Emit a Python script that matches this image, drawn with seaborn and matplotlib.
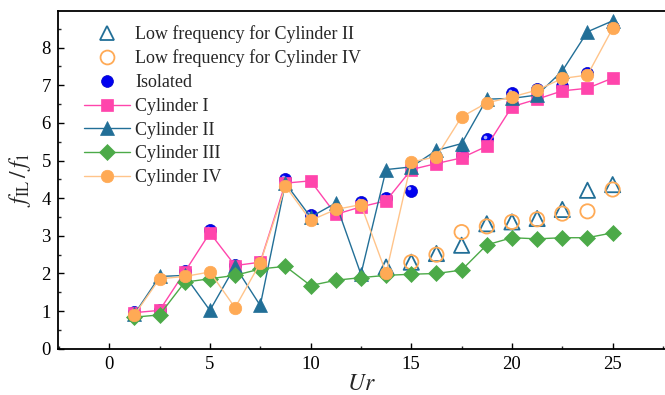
import numpy as np
import pandas as pd
import matplotlib
matplotlib.use("Agg")
import matplotlib.pyplot as plt
import matplotlib.transforms as mtransforms
import seaborn as sns

# ---------------- data ----------------
ur = [1.25, 2.5, 3.75, 5, 6.25, 7.5, 8.75, 10, 11.25, 12.5,
      13.75, 15, 16.25, 17.5, 18.75, 20, 21.25, 22.5, 23.75, 25]

isolated = [0.97, 1.02, 2.07, 3.15, 2.22, 2.30, 4.50, 3.55, 3.65, 3.90,
            4.00, 4.20, 5.00, 5.14, 5.56, 6.80, 6.90, 6.98, 7.33, 8.55]
cyl1 = [0.96, 1.02, 2.04, 3.08, 2.21, 2.30, 4.40, 4.46, 3.57, 3.77,
        3.93, 4.76, 4.92, 5.07, 5.38, 6.43, 6.63, 6.85, 6.92, 7.19]
cyl2 = [0.92, 1.92, 1.95, 1.02, 2.19, 1.15, 4.40, 3.50, 3.87, 1.98,
        4.76, 4.83, 5.27, 5.45, 6.63, 6.65, 6.74, 7.38, 8.42, 8.71]
cyl3 = [0.84, 0.90, 1.77, 1.86, 1.95, 2.12, 2.19, 1.68, 1.82, 1.89,
        1.95, 1.98, 2.00, 2.09, 2.76, 2.95, 2.92, 2.95, 2.95, 3.08]
cyl4 = [0.90, 1.86, 1.92, 2.04, 1.09, 2.28, 4.32, 3.41, 3.70, 3.83,
        2.01, 4.96, 5.10, 6.16, 6.53, 6.69, 6.87, 7.18, 7.27, 8.51]

ur_low2 = [13.75, 15, 16.25, 17.5, 18.75, 20, 21.25, 22.5, 23.75, 25]
low2 = [2.17, 2.30, 2.53, 2.75, 3.32, 3.37, 3.46, 3.70, 4.21, 4.36]
ur_low4 = [15, 16.25, 17.5, 18.75, 20, 21.25, 22.5, 23.75, 25]
low4 = [2.30, 2.50, 3.10, 3.25, 3.37, 3.44, 3.59, 3.65, 4.23]

labels = ["Low frequency for Cylinder II", "Low frequency for Cylinder IV",
          "Isolated", "Cylinder I", "Cylinder II", "Cylinder III", "Cylinder IV"]

# ---------------- style ----------------
sns.set_theme(style="ticks")
plt.rcParams["font.family"] = ["Liberation Serif", "DejaVu Serif"]
plt.rcParams["mathtext.fontset"] = "stix"
plt.rcParams["xtick.direction"] = "in"
plt.rcParams["ytick.direction"] = "in"

c_pink = "#FF45AC"
c_blue = "#226F97"
c_green = "#4CAA48"
c_orange = "#FFAA55"
c_ball = "#0000F0"

fig = plt.figure(figsize=(6.65, 3.95), dpi=100)
ax = fig.add_axes([0.087, 0.117, 0.913, 0.855])

df_low2 = pd.DataFrame({"Ur": ur_low2, "v": low2})
df_low4 = pd.DataFrame({"Ur": ur_low4, "v": low4})
df = pd.DataFrame({"Ur": ur, "iso": isolated, "c1": cyl1, "c2": cyl2,
                   "c3": cyl3, "c4": cyl4})

h = []
sns.scatterplot(data=df_low2, x="Ur", y="v", ax=ax, marker="^", s=120,
                facecolors="none", edgecolor=c_blue, linewidth=1.3, zorder=2)
h.append(plt.Line2D([], [], ls="none", marker="^", ms=10.5, mfc="none",
                    mec=c_blue, mew=1.3))
sns.scatterplot(data=df_low4, x="Ur", y="v", ax=ax, marker="o", s=105,
                facecolors="none", edgecolor=c_orange, linewidth=1.3, zorder=2)
h.append(plt.Line2D([], [], ls="none", marker="o", ms=10, mfc="none",
                    mec=c_orange, mew=1.3))

# isolated: shaded blue ball with a small highlight
sns.scatterplot(data=df, x="Ur", y="iso", ax=ax, marker="o",
                s=75, color=c_ball, edgecolor="#0000C8", linewidth=0.5, zorder=3)
offs = mtransforms.ScaledTranslation(-1.6 / 72, 1.6 / 72, fig.dpi_scale_trans)
ax.scatter(ur, isolated, s=7, color="#A8A8FF", linewidths=0,
           transform=ax.transData + offs, zorder=3.1)
h.append(plt.Line2D([], [], ls="none", marker="o", ms=8.5, mfc=c_ball,
                    mec="#0000C8", mew=0.5))

series = [("c1", c_pink, "s", 8.5, c_pink),
          ("c2", c_blue, "^", 9.5, c_blue),
          ("c3", c_green, "D", 8.3, c_green),
          ("c4", c_orange, "o", 9.0, "#FFC48A")]
for i, (col, color, mk, ms, lc) in enumerate(series):
    sns.lineplot(data=df, x="Ur", y=col, ax=ax, color=lc, lw=1.0,
                 marker=mk, markersize=ms, markerfacecolor=color,
                 markeredgecolor=color, markeredgewidth=0.5, zorder=4 + i)
    h.append(plt.Line2D([], [], color=lc, lw=1.0, marker=mk, ms=ms,
                        mfc=color, mec=color, mew=0.5))

ax.set_xlim(-2.55, 27.6)
ax.set_ylim(0, 8.97)
ax.set_xticks([0, 5, 10, 15, 20, 25])
ax.set_yticks(range(0, 9))
ax.xaxis.set_minor_locator(matplotlib.ticker.MultipleLocator(2.5))
ax.yaxis.set_minor_locator(matplotlib.ticker.MultipleLocator(0.5))
ax.tick_params(which="major", length=4.5, width=1.0, labelsize=13.5,
               colors="black", pad=5)
ax.tick_params(which="minor", length=2.5, width=1.0)
for s in ["left", "bottom", "top"]:
    ax.spines[s].set_linewidth(1.3)
    ax.spines[s].set_color("black")
ax.spines["right"].set_visible(False)

ax.set_xlabel(r"$Ur$", fontsize=17, labelpad=1)
ax.set_ylabel(r"$f_{\mathrm{IL}}\,/\,f_{1}$", fontsize=17, labelpad=6)

ax.legend(h, labels, loc="upper left", frameon=False, fontsize=13,
          handlelength=2.55, labelspacing=0.37, handletextpad=0.3,
          borderaxespad=0.0, borderpad=0.4, bbox_to_anchor=(0.031, 0.98))

fig.savefig("out.png", dpi=100)
